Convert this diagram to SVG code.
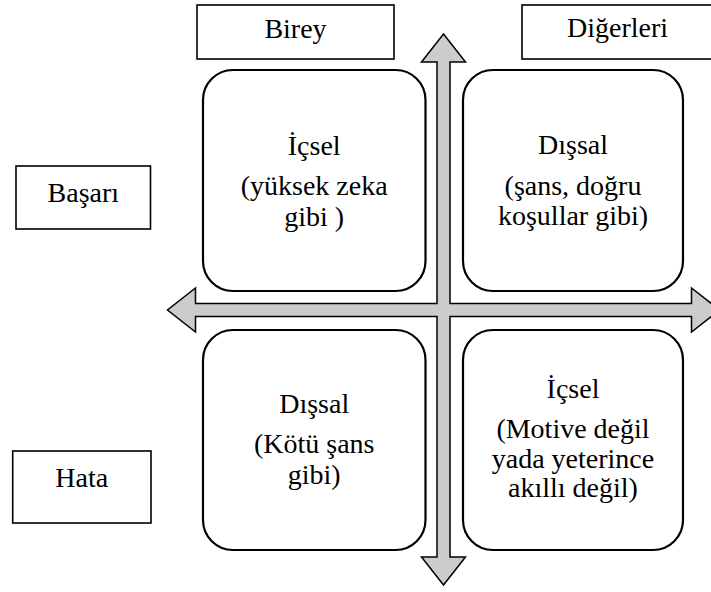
<svg xmlns="http://www.w3.org/2000/svg" width="711" height="592" viewBox="0 0 711 592">
<style>
  .lbl { fill: #fff; stroke: #000; stroke-width: 1.6; }
  .box { fill: #fff; stroke: #000; stroke-width: 2.2; }
  .axis { fill: #cccccc; stroke: #000; stroke-width: 1.5; stroke-linejoin: miter; }
  .t { font-family: "Liberation Serif", "Times New Roman", serif; font-size: 28px; fill: #000; text-anchor: middle; }
</style>
<rect width="711" height="592" fill="#fff"/>
<g id="connectors">
  <path class="axis" d="M443.5,34 L465.5,62 L450,62 L450,303.5 L691.5,303.5 L691.5,288 L719.5,310 L691.5,332 L691.5,316.5 L450,316.5 L450,557 L465.5,557 L443.5,585 L421.5,557 L437,557 L437,316.5 L195.5,316.5 L195.5,332 L167.5,310 L195.5,288 L195.5,303.5 L437,303.5 L437,62 L421.5,62 Z"/>
</g>
<g id="birey">
  <rect class="lbl" x="197" y="5" width="197" height="54"/>
  <text class="t" x="295.5" y="38">Birey</text>
</g>
<g id="digerleri">
  <rect class="lbl" x="522" y="5" width="191" height="54"/>
  <text class="t" x="617.5" y="37">Diğerleri</text>
</g>
<g id="basari">
  <rect class="lbl" x="16" y="166" width="134.5" height="63"/>
  <text class="t" x="83.3" y="201.5">Başarı</text>
</g>
<g id="hata">
  <rect class="lbl" x="12.7" y="451" width="138.3" height="72"/>
  <text class="t" x="81.8" y="486.5">Hata</text>
</g>
<g id="icsel-basari">
  <rect class="box" x="203" y="70" width="222.5" height="221" rx="30" ry="30"/>
  <text class="t" x="314.2" y="155">İçsel</text>
  <text class="t" x="314.2" y="195">(yüksek zeka</text>
  <text class="t" x="314.2" y="226">gibi )</text>
</g>
<g id="dissal-basari">
  <rect class="box" x="463" y="70" width="220" height="221" rx="30" ry="30"/>
  <text class="t" x="573" y="154">Dışsal</text>
  <text class="t" x="573" y="195">(şans, doğru</text>
  <text class="t" x="573" y="225">koşullar gibi)</text>
</g>
<g id="dissal-hata">
  <rect class="box" x="203" y="330" width="222.5" height="220" rx="30" ry="30"/>
  <text class="t" x="314.2" y="413">Dışsal</text>
  <text class="t" x="314.2" y="453">(Kötü şans</text>
  <text class="t" x="314.2" y="484">gibi)</text>
</g>
<g id="icsel-hata">
  <rect class="box" x="463" y="330" width="220" height="220" rx="30" ry="30"/>
  <text class="t" x="573" y="398">İçsel</text>
  <text class="t" x="573" y="438">(Motive değil</text>
  <text class="t" x="573" y="468">yada yeterince</text>
  <text class="t" x="573" y="497">akıllı değil)</text>
</g>
</svg>
